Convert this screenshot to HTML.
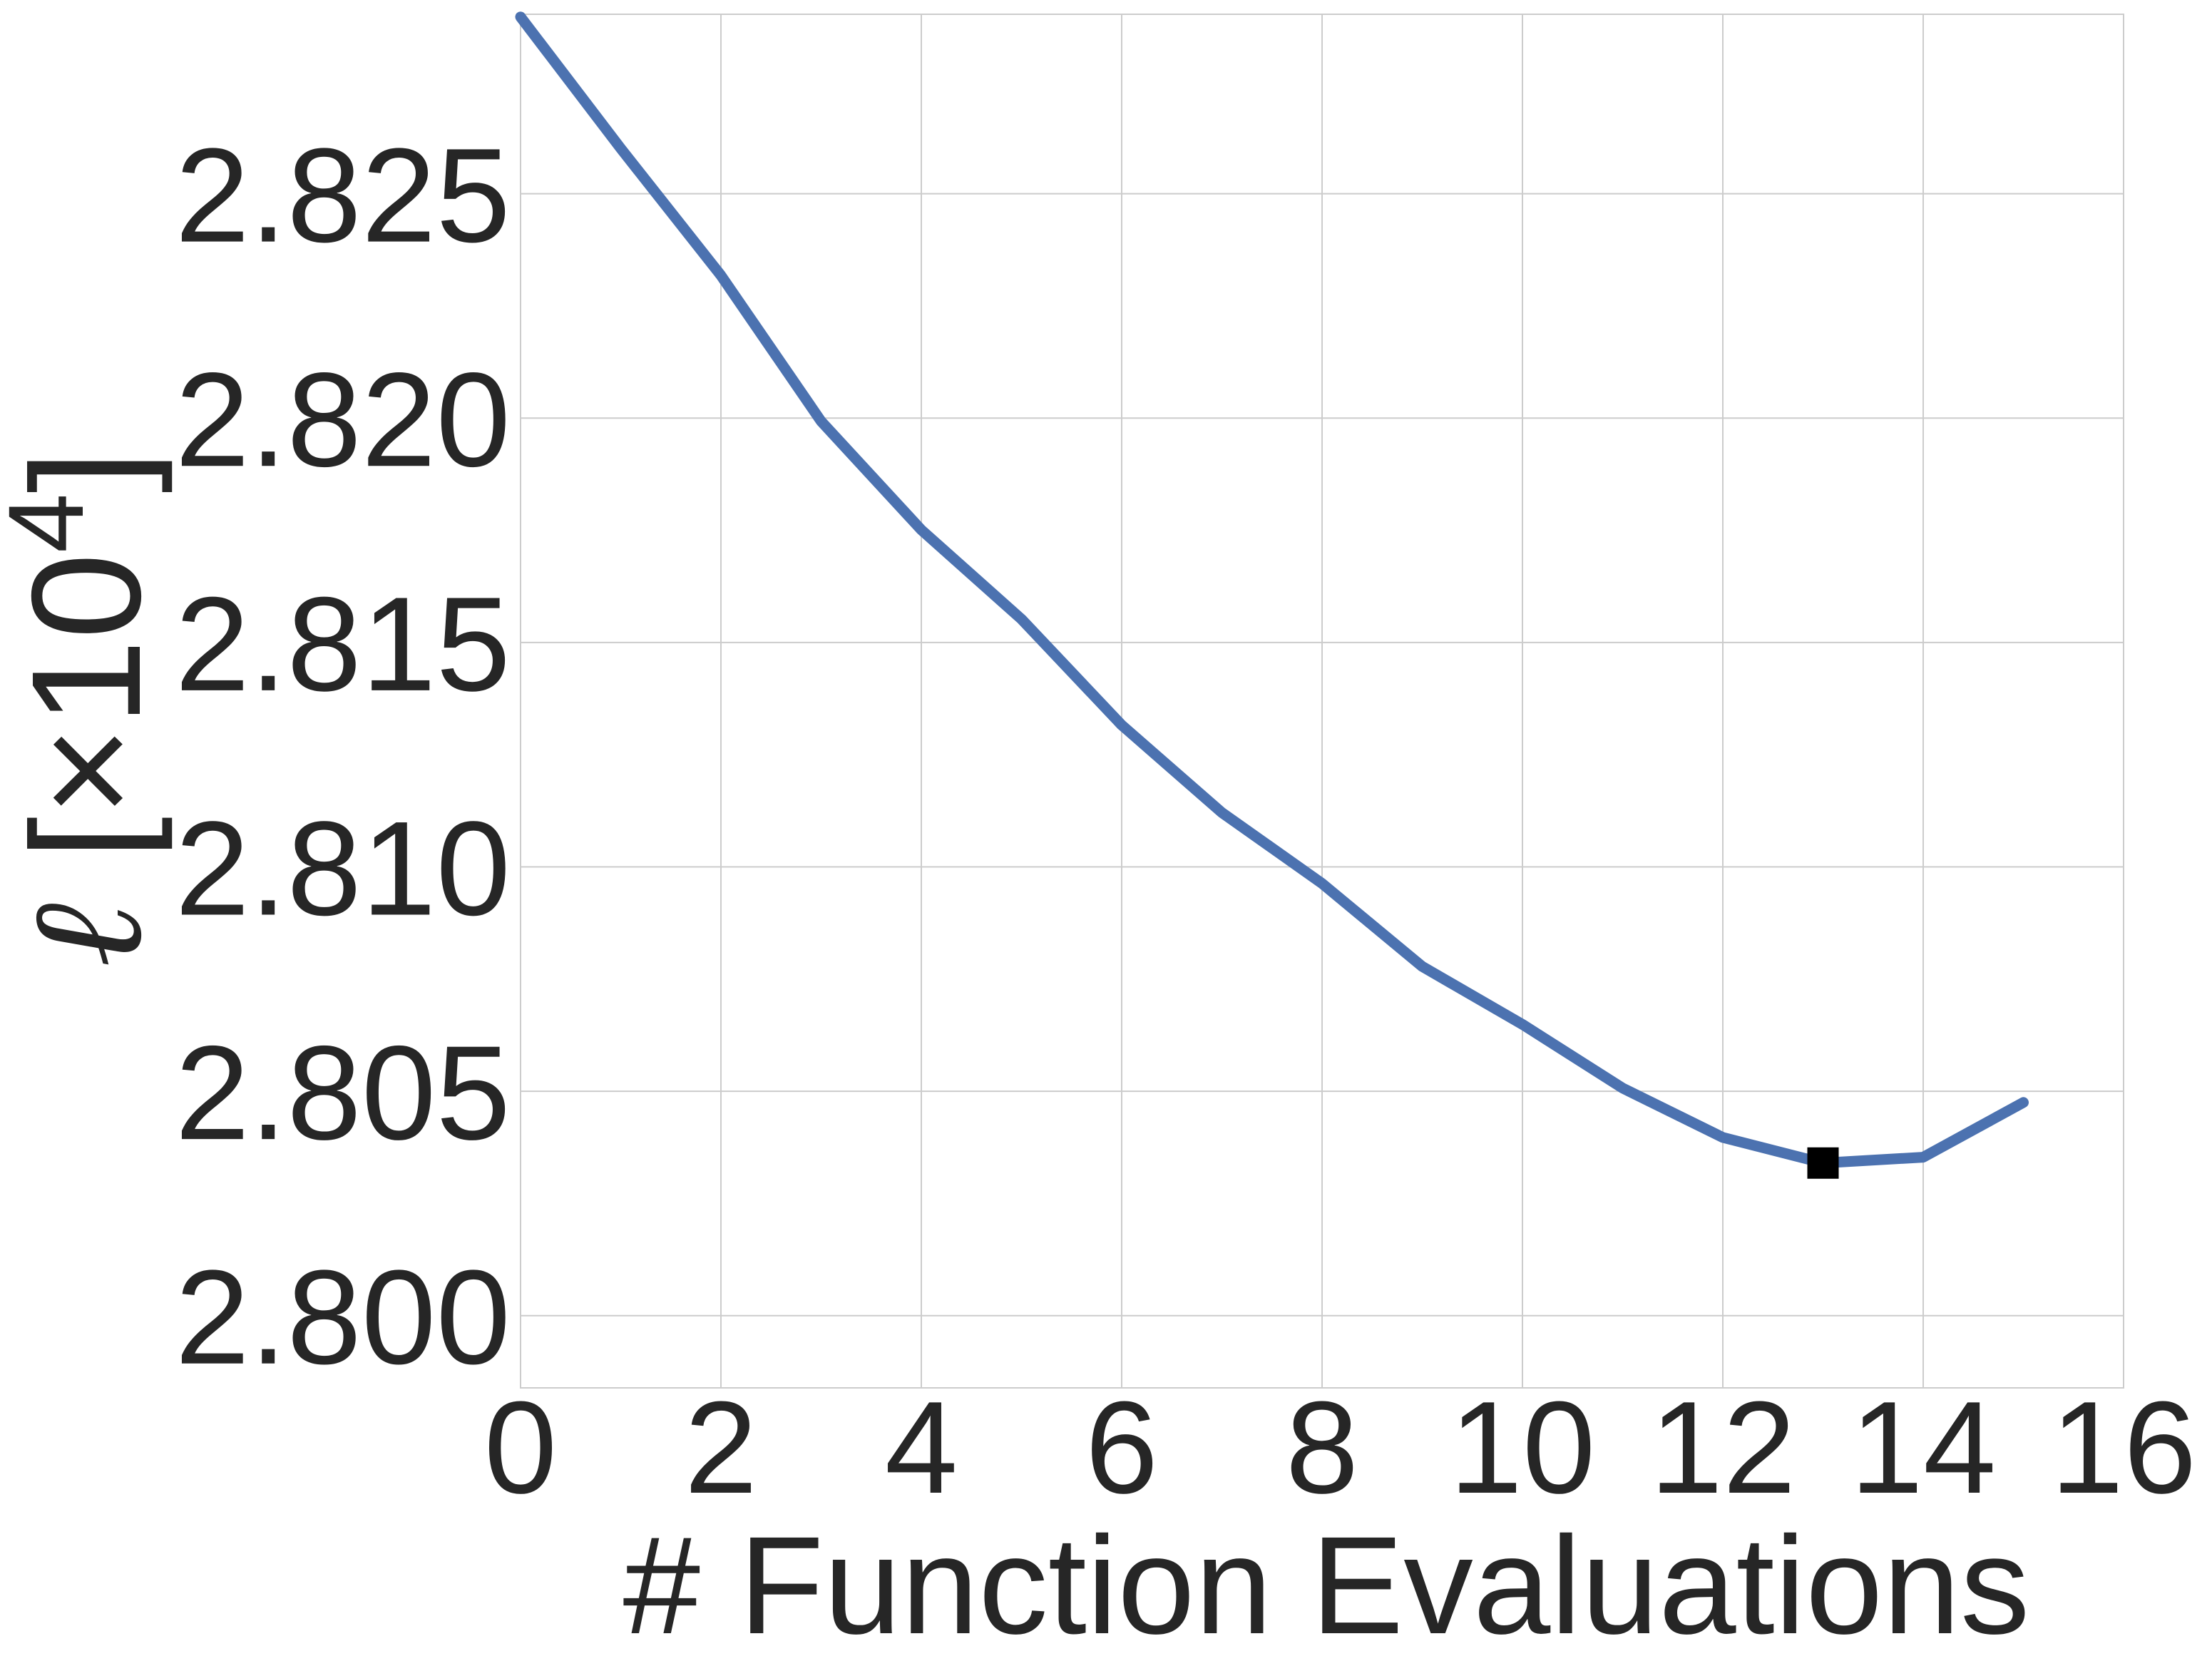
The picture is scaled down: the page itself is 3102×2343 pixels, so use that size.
<!DOCTYPE html>
<html><head><meta charset="utf-8"><style>
html,body{margin:0;padding:0;background:#fff;}
svg{display:block;font-family:"Liberation Sans",sans-serif;}
</style></head><body>
<svg id="chart" width="3102" height="2343" viewBox="0 0 3102 2343" xmlns="http://www.w3.org/2000/svg">
<g id="grid"></g>
<rect x="730" y="20" width="2248" height="1926" fill="none" stroke="#cccccc" stroke-width="2"/>
<g id="ticks"></g>
<g id="series"></g>
<text x="1860" y="2290" font-size="195" fill="#262626" text-anchor="middle"># Function Evaluations</text>
<text transform="translate(196,994) rotate(-90)" font-size="218" fill="#262626" text-anchor="middle"><tspan font-family="DejaVu Serif,serif" font-style="italic">ℓ</tspan> [×10<tspan dy="-80" font-size="150">4</tspan><tspan dy="80">]</tspan></text>
</svg>
<script>
const xValues=[0,1,2,3,4,5,6,7,8,9,10,11,12,13,14,15];
const yValues=[2.82894,2.82601,2.82318,2.81993,2.81751,2.81552,2.81316,2.81121,2.80963,2.80778,2.80649,2.80507,2.80397,2.80340,2.80353,2.80475];
const xTicks=[0,2,4,6,8,10,12,14,16];
const yTicks=[2.800,2.805,2.810,2.815,2.820,2.825];
const yTickLabels=["2.800","2.805","2.810","2.815","2.820","2.825"];
const bestIndex=13;
const L=730,R=2978,T=20,B=1946,xMin=0,xMax=16,yMin=2.79839,yMax=2.82900;
const sx=v=>L+(v-xMin)/(xMax-xMin)*(R-L);
const sy=v=>B-(v-yMin)/(yMax-yMin)*(B-T);
const NS="http://www.w3.org/2000/svg";
const grid=document.getElementById('grid'),ticks=document.getElementById('ticks'),series=document.getElementById('series');
function mk(tag,attrs,parent){const e=document.createElementNS(NS,tag);for(const k in attrs)e.setAttribute(k,attrs[k]);parent.appendChild(e);return e;}
xTicks.forEach(t=>{
  const g=mk('line',{x1:sx(t),x2:sx(t),y1:T,y2:B,stroke:'#cccccc','stroke-width':2},grid);
  
  
  const l=mk('text',{x:sx(t),y:2093,'font-size':184,fill:'#262626','text-anchor':'middle'},ticks);
  l.textContent=t;
  
  
});
yTicks.forEach((t,i)=>{
  const g=mk('line',{x1:L,x2:R,y1:sy(t),y2:sy(t),stroke:'#cccccc','stroke-width':2},grid);
  
  
  const l=mk('text',{x:716,y:sy(t)+67,'font-size':188,fill:'#262626','text-anchor':'end'},ticks);
  l.textContent=yTickLabels[i];
  
  
});
const pts=xValues.map((x,i)=>sx(x)+','+sy(yValues[i])).join(' ');
const line=mk('polyline',{points:pts,fill:'none',stroke:'#4c72b0','stroke-width':15,'stroke-linejoin':'round','stroke-linecap':'round'},series);


const m=mk('rect',{x:sx(xValues[bestIndex])-22,y:sy(yValues[bestIndex])-22,width:44,height:44,fill:'#000'},series);


</script>
</body></html>
